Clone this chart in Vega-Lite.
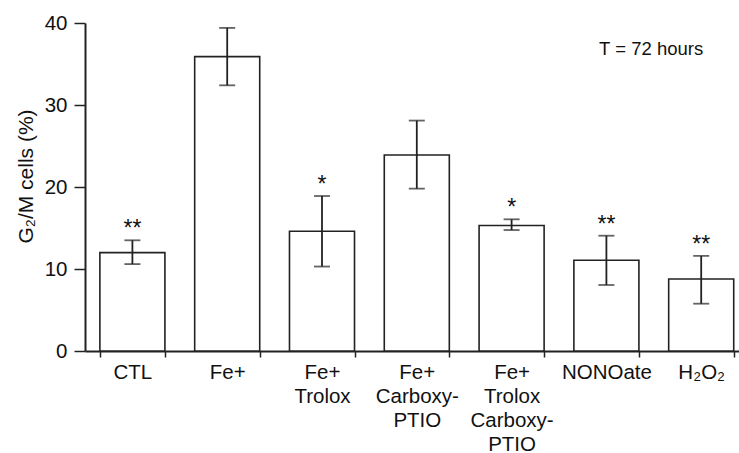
{
  "$schema": "https://vega.github.io/schema/vega-lite/v6.json",
  "autosize": {"type": "none"},
  "width": 654,
  "height": 328,
  "padding": {"left": 85, "top": 23, "right": 0, "bottom": 102},
  "background": "white",
  "config": {
    "font": "Liberation Sans",
    "view": {"stroke": null},
    "axis": {"grid": false, "domainColor": "#222", "tickColor": "#222", "labelColor": "#111", "titleColor": "#111", "labelFont": "Liberation Sans", "titleFont": "Liberation Sans"}
  },
  "datasets": {
    "bars": [
      {"group": "CTL", "mean": 12.0, "lo": 10.6, "hi": 13.5, "sig": "**"},
      {"group": "Fe+", "mean": 35.9, "lo": 32.4, "hi": 39.4, "sig": ""},
      {"group": "Fe+|Trolox", "mean": 14.6, "lo": 10.3, "hi": 18.9, "sig": "*"},
      {"group": "Fe+|Carboxy-|PTIO", "mean": 23.9, "lo": 19.8, "hi": 28.1, "sig": ""},
      {"group": "Fe+|Trolox|Carboxy-|PTIO", "mean": 15.3, "lo": 14.75, "hi": 16.06, "sig": "*"},
      {"group": "NONOate", "mean": 11.06, "lo": 8.05, "hi": 14.06, "sig": "**"},
      {"group": "H₂O₂", "mean": 8.78, "lo": 5.77, "hi": 11.6, "sig": "**"}
    ],
    "note": [
      {"group": "H₂O₂", "v": 36.8, "label": "T = 72 hours"}
    ]
  },
  "data": {"name": "bars"},
  "encoding": {
    "x": {
      "field": "group",
      "type": "nominal",
      "sort": null,
      "scale": {"domain": ["CTL", "Fe+", "Fe+|Trolox", "Fe+|Carboxy-|PTIO", "Fe+|Trolox|Carboxy-|PTIO", "NONOate", "H₂O₂"], "range": [0, 663.6], "paddingInner": 0.314, "paddingOuter": 0.157},
      "axis": {
        "title": null,
        "labelAngle": 0,
        "labelFontSize": 20.5,
        "labelLineHeight": 24.3,
        "labelBaseline": "top",
        "labelPadding": 5,
        "labelExpr": "isValid(datum.value) ? split(datum.value, '|') : ''",
        "tickBand": "extent",
        "tickSize": 6,
        "tickWidth": 1.5,
        "domainWidth": 2
      }
    }
  },
  "layer": [
    {
      "mark": {"type": "bar", "fill": "white", "stroke": "#222", "strokeWidth": 1.6},
      "encoding": {
        "y": {
          "field": "mean",
          "type": "quantitative",
          "scale": {"domain": [0, 40], "nice": false},
          "axis": {
            "title": "G₂/M cells (%)",
            "titleFontSize": 21,
            "titleFontWeight": "normal",
            "titlePadding": 8,
            "titleY": 153,
            "values": [0, 10, 20, 30, 40],
            "labelFontSize": 20.5,
            "labelPadding": 7,
            "tickSize": 11,
            "tickWidth": 1.5,
            "domainWidth": 2
          }
        }
      }
    },
    {
      "mark": {"type": "rule", "stroke": "#222", "strokeWidth": 1.8},
      "encoding": {
        "y": {"field": "lo", "type": "quantitative"},
        "y2": {"field": "hi"}
      }
    },
    {
      "mark": {"type": "tick", "color": "#222", "size": 16, "thickness": 1.8, "orient": "horizontal"},
      "encoding": {"y": {"field": "lo", "type": "quantitative"}}
    },
    {
      "mark": {"type": "tick", "color": "#222", "size": 16, "thickness": 1.8, "orient": "horizontal"},
      "encoding": {"y": {"field": "hi", "type": "quantitative"}}
    },
    {
      "mark": {"type": "text", "fontSize": 23, "baseline": "alphabetic", "dy": -4, "color": "#111"},
      "encoding": {
        "y": {"field": "hi", "type": "quantitative"},
        "text": {"field": "sig"}
      }
    },
    {
      "data": {"name": "note"},
      "mark": {"type": "text", "fontSize": 18.5, "baseline": "middle", "align": "center", "color": "#111"},
      "encoding": {
        "x": {"field": "group", "type": "nominal", "bandPosition": -0.27},
        "y": {"field": "v", "type": "quantitative"},
        "text": {"field": "label"}
      }
    }
  ]
}
